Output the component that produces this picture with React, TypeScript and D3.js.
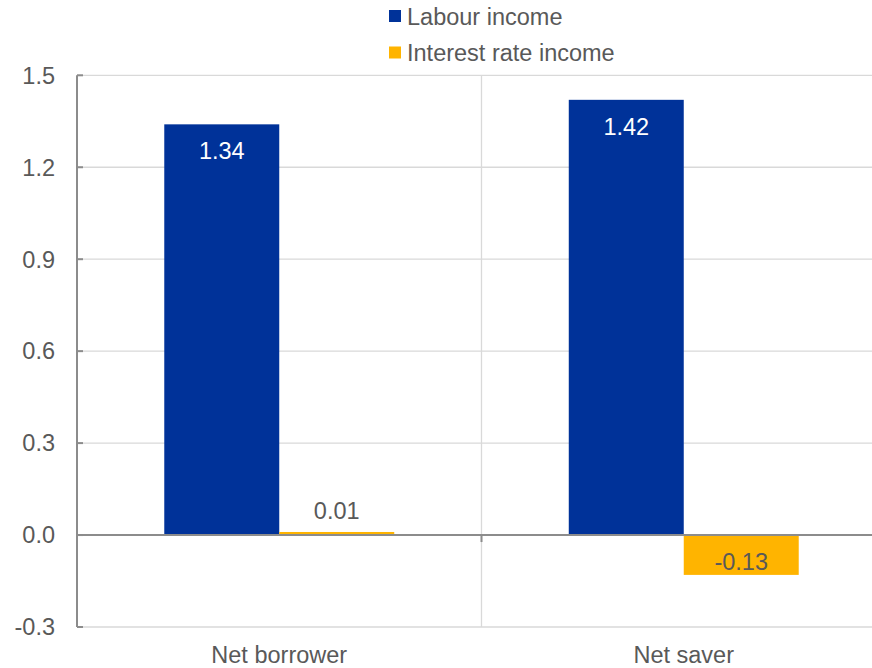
import React from "react";
import * as d3 from "d3";

const categories = ["Net borrower", "Net saver"];
const seriesNames = ["Labour income", "Interest rate income"];
const labourIncome = [1.34, 1.42];
const interestIncome = [0.01, -0.13];
const yTicks = [-0.3, 0, 0.3, 0.6, 0.9, 1.2, 1.5];
const colors = ["#003299", "#FFB400"];

const W = 872;
const H = 668;
const left = 77;
const right = 886;
const top = 75.3;
const bottom = 627;
const font = "Liberation Sans, Arial, sans-serif";
const textColor = "#595959";
const fs = 23.5;

export default function App() {
  const y = d3.scaleLinear().domain([-0.3, 1.5]).range([bottom, top]);
  const x0 = d3.scaleBand<string>().domain(categories).range([left, right]).paddingInner(0).paddingOuter(0);
  const x1 = d3.scaleBand<string>().domain(seriesNames).range([0, x0.bandwidth()]).paddingInner(0).paddingOuter(0.759);
  const series = [labourIncome, interestIncome];
  const y0 = y(0);

  return (
    <svg width={W} height={H} style={{ position: "absolute", left: 0, top: 0 }}>
      <rect width={W} height={H} fill="#fff" />
      {yTicks.map((t) => (
        t !== 0 && (
          <line key={"g" + t} x1={left} x2={W} y1={y(t)} y2={y(t)} stroke="#d9d9d9" strokeWidth={1.3} />
        )
      ))}
      {categories.slice(1).map((c) => (
        <line key={"v" + c} x1={x0(c)!} x2={x0(c)!} y1={top} y2={bottom} stroke="#d9d9d9" strokeWidth={1.3} />
      ))}
      {categories.map((c, ci) =>
        seriesNames.map((s, si) => {
          const v = series[si][ci];
          const bx = x0(c)! + x1(s)!;
          const bw = x1.bandwidth();
          const yt = Math.min(y(v), y0);
          const h = Math.abs(y(v) - y0);
          let ly: number;
          let col = textColor;
          if (si === 0) {
            ly = y(v) + 35;
            col = "#fff";
          } else if (v >= 0) {
            ly = y(v) - 13;
          } else {
            ly = y(v) - 5;
          }
          return (
            <g key={c + s}>
              <rect x={bx} y={yt} width={bw} height={Math.max(h, 1.5)} fill={colors[si]} />
              <text x={bx + bw / 2} y={ly} textAnchor="middle" fill={col} fontSize={fs} fontFamily={font}>
                {v.toFixed(2)}
              </text>
            </g>
          );
        })
      )}
      <line x1={left} x2={W} y1={y0} y2={y0} stroke="#8c8c8c" strokeWidth={2} />
      {categories.slice(1).map((c) => (
        <line key={"t" + c} x1={x0(c)!} x2={x0(c)!} y1={y0} y2={y0 + 7} stroke="#8c8c8c" strokeWidth={2} />
      ))}
      <line x1={left} x2={left} y1={top} y2={bottom} stroke="#8c8c8c" strokeWidth={2} />
      {yTicks.map((t) => (
        <g key={"t" + t}>
          <line x1={left} x2={left + 6} y1={y(t)} y2={y(t)} stroke="#8c8c8c" strokeWidth={2} />
          <text x={55} y={y(t) + 8.3} textAnchor="end" fill={textColor} fontSize={fs} fontFamily={font}>
            {t.toFixed(1)}
          </text>
        </g>
      ))}
      {categories.map((c) => (
        <text key={"c" + c} x={x0(c)! + x0.bandwidth() / 2} y={663} textAnchor="middle" fill={textColor} fontSize={fs} fontFamily={font}>
          {c}
        </text>
      ))}
      {seriesNames.map((s, i) => (
        <g key={"l" + s}>
          <rect x={389} y={10 + i * 36.5} width={12} height={12} fill={colors[i]} />
          <text x={407} y={24.5 + i * 36.5} fill={textColor} fontSize={fs} fontFamily={font}>
            {s}
          </text>
        </g>
      ))}
    </svg>
  );
}
